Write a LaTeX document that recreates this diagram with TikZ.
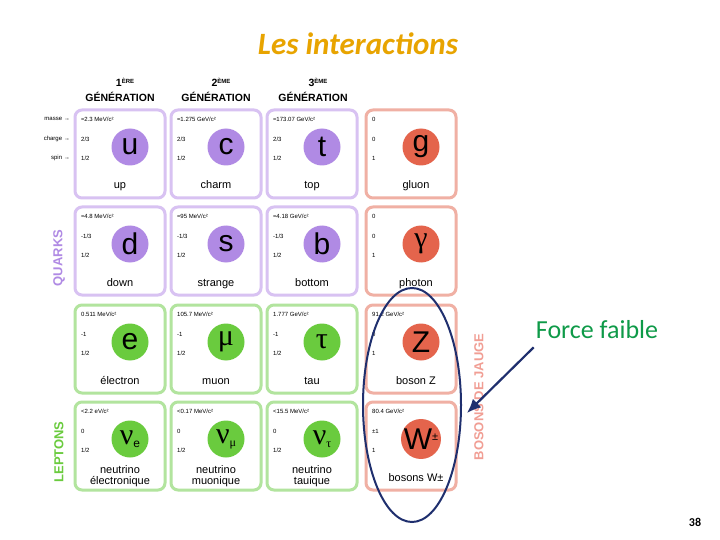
\documentclass[tikz,border=0pt]{standalone}
\usepackage{fontspec}
\setmainfont{Liberation Sans}
\newfontfamily\titlefont{Carlito}
\newfontfamily\grk{Liberation Serif}
\usetikzlibrary{arrows.meta,shapes.geometric}
\definecolor{qb}{HTML}{D8C2F2}\definecolor{qc}{HTML}{B08AE4}
\definecolor{lb}{HTML}{B2E49E}\definecolor{lc}{HTML}{6ACB3E}
\definecolor{bb}{HTML}{F0B0A4}\definecolor{bc}{HTML}{E4644C}
\definecolor{ttl}{HTML}{E8A400}\definecolor{navy}{HTML}{1F2F6E}
\definecolor{ff}{HTML}{0E9A48}
\tikzset{
 cellbox/.style={draw=#1, line width=3pt, rounded corners=7pt, fill=white},
 ball/.style={circle, fill=#1, minimum size=37pt, inner sep=0pt, font=\fontsize{30}{30}\selectfont},
 small/.style={font=\fontsize{6}{6}\selectfont, anchor=west, inner sep=0pt},
 pname/.style={font=\fontsize{11}{9}\selectfont, align=center, inner sep=0pt, anchor=base},
 gen/.style={font=\bfseries\fontsize{10.5}{10}\selectfont, inner sep=0pt},
 side/.style={font=\bfseries\fontsize{13}{13}\selectfont, rotate=90, inner sep=0pt},
}
\newcommand\pcell[9]{%
 \draw[cellbox=#3] (#1,#2) rectangle ++(90,88);
 \node[small] (#9m) at (#1+6,#2+9) {#5};
 \node[small] (#9c) at (#1+6,#2+29) {#6};
 \node[small] (#9s) at (#1+6,#2+48) {#7};
 \node[ball=#4] (#9) at (#1+55,#2+37) {#8};
}
\begin{document}
\begin{tikzpicture}[x=1pt,y=-1pt]
\useasboundingbox (0,0) rectangle (720,540);
\fill[white] (0,0) rectangle (720,540);
\node[font=\titlefont\bfseries\itshape\fontsize{31}{31}\selectfont, text=ttl] (title) at (358,44) {Les interactions};
\foreach \x/\n/\s/\k in {120/1/ÈRE/g1,216/2/ÈME/g2,313/3/ÈME/g3}{
 \node[gen] (\k n) at (\x+5,82) {\n\raisebox{3pt}{\fontsize{6}{6}\selectfont \s}};
 \node[gen] (\k) at (\x,97) {GÉNÉRATION};
}
\pcell{75}{110}{qb}{qc}{≈2.3 MeV/c²}{2/3}{1/2}{u}{u}
\pcell{171}{110}{qb}{qc}{≈1.275 GeV/c²}{2/3}{1/2}{c}{c}
\pcell{267}{110}{qb}{qc}{≈173.07 GeV/c²}{2/3}{1/2}{t}{t}
\pcell{366}{110}{bb}{bc}{0}{0}{1}{\raisebox{3pt}{g}}{g}
\pcell{75}{207}{qb}{qc}{≈4.8 MeV/c²}{-1/3}{1/2}{d}{d}
\pcell{171}{207}{qb}{qc}{≈95 MeV/c²}{-1/3}{1/2}{\raisebox{-2pt}{s}}{s}
\pcell{267}{207}{qb}{qc}{≈4.18 GeV/c²}{-1/3}{1/2}{b}{b}
\pcell{366}{207}{bb}{bc}{0}{0}{1}{\grk γ}{gam}
\pcell{75}{305}{lb}{lc}{0.511 MeV/c²}{-1}{1/2}{\raisebox{-2pt}{e}}{e}
\pcell{171}{305}{lb}{lc}{105.7 MeV/c²}{-1}{1/2}{\grk μ}{mu}
\pcell{267}{305}{lb}{lc}{1.777 GeV/c²}{-1}{1/2}{\grk τ}{tau}
\pcell{366}{305}{bb}{bc}{91.2 GeV/c²}{0}{1}{Z}{Z}
\pcell{75}{402}{lb}{lc}{<2.2 eV/c²}{0}{1/2}{{\grk ν}\raisebox{-3pt}{\fontsize{12}{12}\selectfont e}}{ne}
\pcell{171}{402}{lb}{lc}{<0.17 MeV/c²}{0}{1/2}{{\grk ν}\raisebox{-3pt}{\fontsize{12}{12}\selectfont\grk μ}}{nm}
\pcell{267}{402}{lb}{lc}{<15.5 MeV/c²}{0}{1/2}{{\grk ν}\raisebox{-3pt}{\fontsize{12}{12}\selectfont\grk τ}}{nt}
\pcell{366}{402}{bb}{bc}{80.4 GeV/c²}{±1}{1}{W\raisebox{9pt}{\fontsize{11}{11}\selectfont ±}}{W}
\foreach \x/\y/\t/\k in {120/189/up/nu,216/189/charm/nc,312/189/top/nt2,416/189/gluon/ng,
 120/286/down/nd,216/286/strange/ns,312/286/bottom/nb,416/286/photon/np,
 120/384/électron/nel,216/384/muon/nmu,312/384/tau/nta,416/384/boson Z/nz,
 416/481/bosons W±/nw}
 \node[pname] (\k) at (\x,\y) {\t};
\node[pname,font=\fontsize{11}{10.5}\selectfont] (l1) at (120,484) {neutrino\\électronique};
\node[pname,font=\fontsize{11}{10.5}\selectfont] (l2) at (216,484) {neutrino\\muonique};
\node[pname,font=\fontsize{11}{10.5}\selectfont] (l3) at (312,484) {neutrino\\tauique};
\node[small,anchor=east] (lm) at (70,119) {masse →};
\node[small,anchor=east] (lc) at (70,139) {charge →};
\node[small,anchor=east] (ls) at (70,158) {spin →};
\node[side,text=qc] (quarks) at (59,258) {QUARKS};
\node[side,text=lc] (leptons) at (59,452) {LEPTONS};
\node[side,text=bb!90!red] (bosons) at (479,397) {BOSONS DE JAUGE};
\node[draw=navy, line width=2pt, ellipse, minimum width=98pt, minimum height=234pt] (ell) at (412,405) {};
\node[text=ff, font=\titlefont\fontsize{26}{26}\selectfont, inner sep=0pt] (ff) at (597,330) {Force faible};
\draw[navy, line width=2.2pt, -{Latex[length=14pt,width=12pt]}] (ff.south west) ++(-2,8) coordinate (fs) -- (467,413);
\node[font=\titlefont\bfseries\fontsize{12}{12}\selectfont] (pg) at (695,522) {38};
\end{tikzpicture}
\end{document}
